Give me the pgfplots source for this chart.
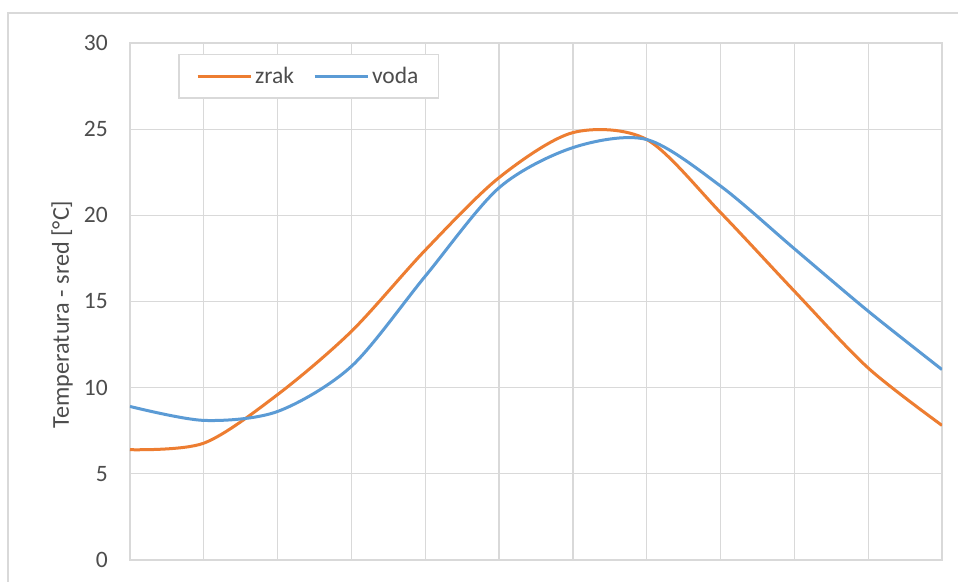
\documentclass[border=0pt]{standalone}
\usepackage{fontspec}
\setmainfont{Carlito}
\usepackage{pgfplots}
\pgfplotsset{compat=1.18}
\definecolor{gridgray}{HTML}{D9D9D9}
\definecolor{txtgray}{HTML}{4D4D4D}
\definecolor{xorange}{HTML}{ED7D31}
\definecolor{xblue}{HTML}{5B9BD5}
\begin{document}
\begin{tikzpicture}
\path[use as bounding box] (-130pt,-21pt) rectangle (828pt,560pt);
\fill[white] (-130pt,-21pt) rectangle (828pt,560pt);
\draw[gridgray, line width=1.3pt] (-122pt,-25pt) -- (-122pt,547pt) -- (832pt,547pt);
\begin{axis}[
  at={(0pt,0pt)}, anchor=south west,
  scale only axis,
  width=812pt, height=517pt,
  xmin=0, xmax=11, ymin=0, ymax=30,
  xtick={0,...,11}, xticklabels={},
  ytick={0,5,...,30},
  grid=major,
  grid style={gridgray, line width=1.3pt},
  axis line style={gridgray, line width=1.3pt},
  major tick length=0pt,
  /pgf/number format/assume math mode=true,
  yticklabel style={font=\fontsize{23.5}{28}\selectfont, text=txtgray, inner sep=0pt, xshift=-22pt},
  ylabel={Temperatura - sred [°C]},
  every axis y label/.style={at={(axis description cs:-0.0837,0.475)}, rotate=90, anchor=center, font=\fontsize{24.2}{28}\selectfont, text=txtgray},
  legend columns=2,
  legend image code/.code={\draw[#1] (0pt,0pt) -- (53pt,0pt);},
  legend style={at={(axis cs:0.657,29.39)}, anchor=north west, draw=gridgray, line width=1.3pt, fill=white,
    font=\fontsize{23.5}{28}\selectfont, text=txtgray,
    inner xsep=17pt, inner ysep=10pt,
    nodes={inner sep=3pt},
    /tikz/every even column/.append style={column sep=16pt}},
  legend cell align=left,
]
\addplot[xorange, line width=3pt, smooth, tension=0.5] coordinates {
(0,6.40) (1,6.78) (2,9.60) (3,13.27) (4,17.98) (5,22.19) (6,24.80) (7,24.40) (8,20.16) (9,15.60) (10,11.14) (11,7.81)
};
\addlegendentry{zrak}
\addplot[xblue, line width=3pt, smooth, tension=0.5] coordinates {
(0,8.91) (1,8.10) (2,8.62) (3,11.24) (4,16.47) (5,21.60) (6,23.93) (7,24.40) (8,21.70) (9,18.06) (10,14.44) (11,11.05)
};
\addlegendentry{voda}
\end{axis}
\end{tikzpicture}
\end{document}
